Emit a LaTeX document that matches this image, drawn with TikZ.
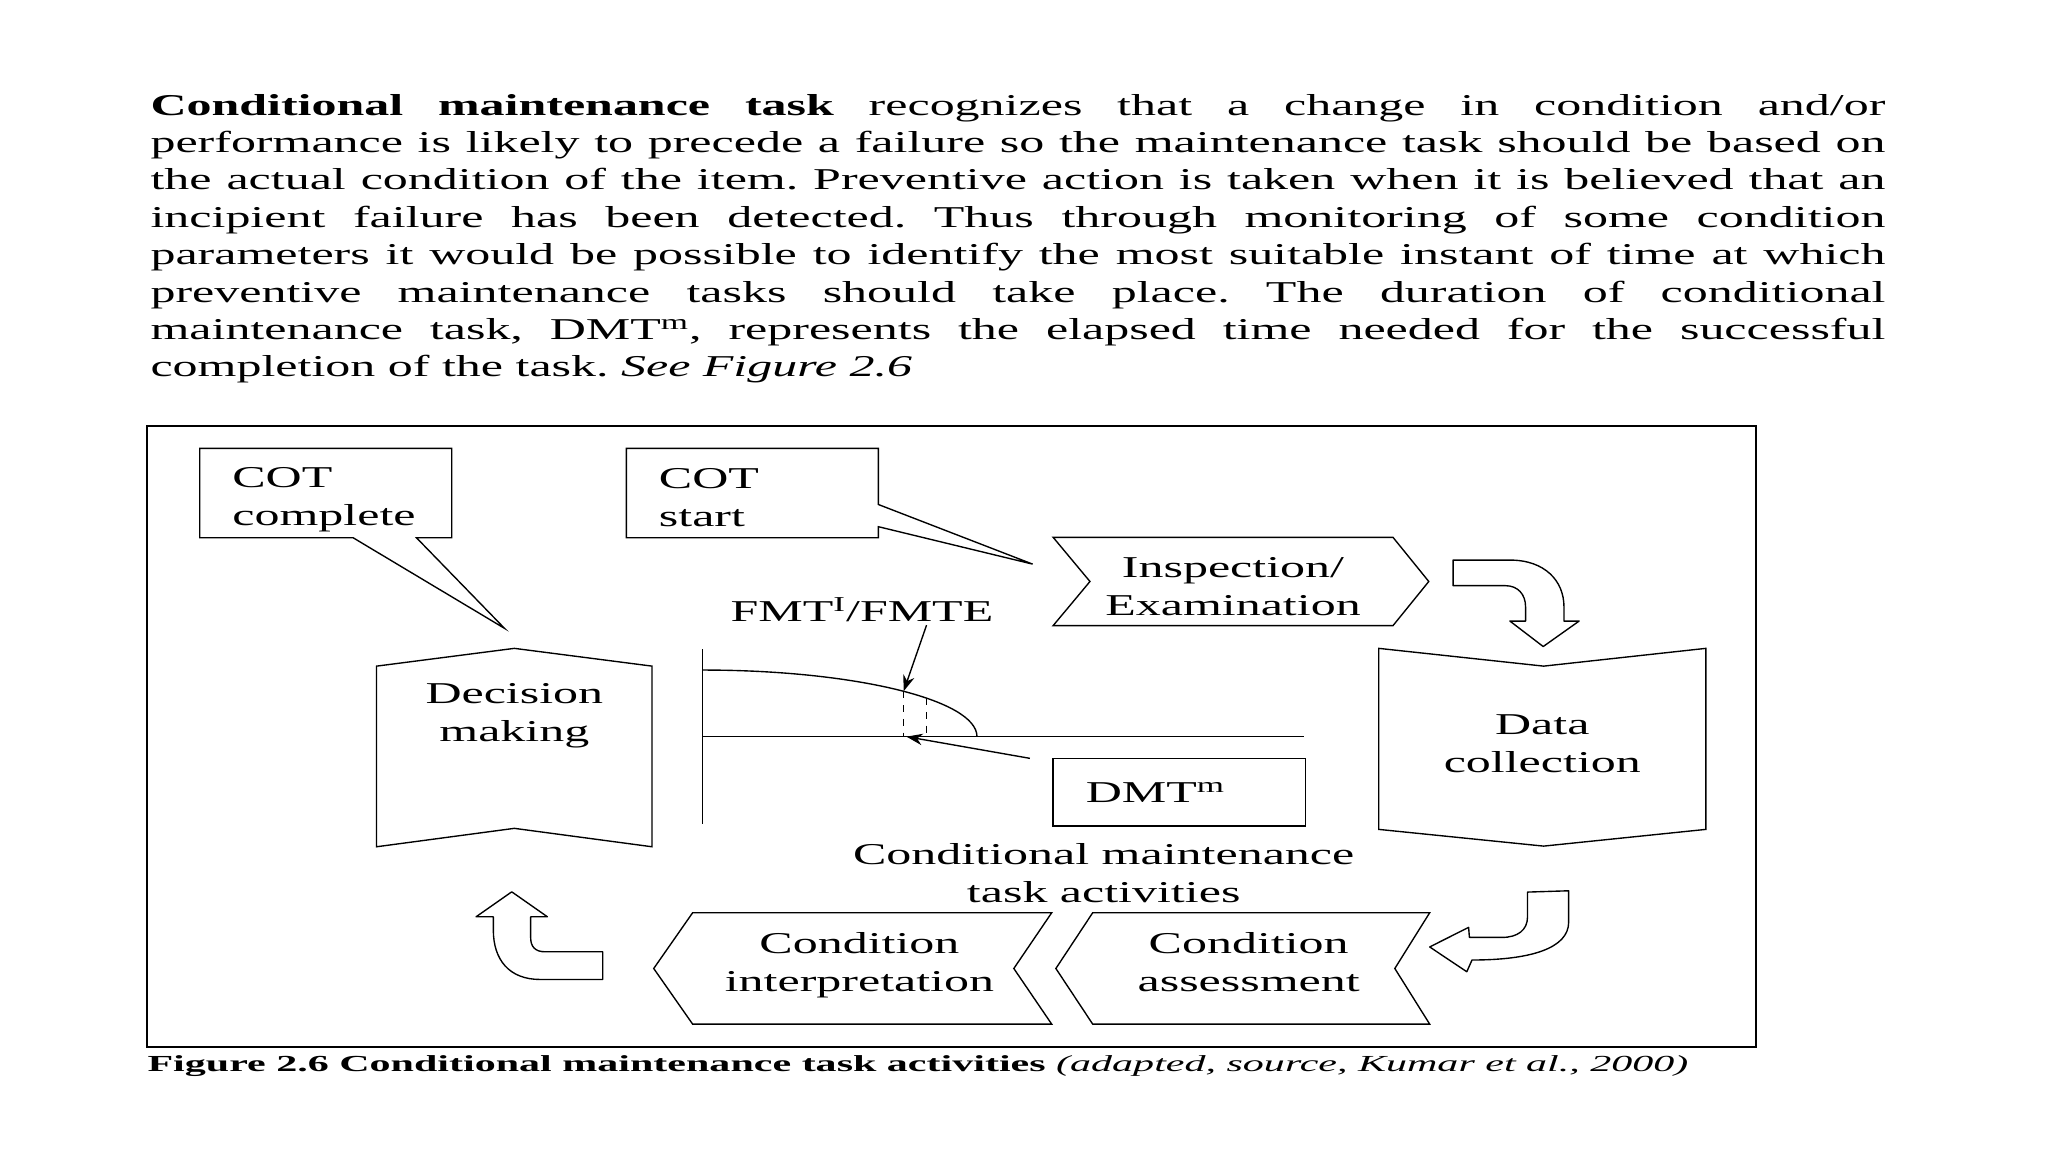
\documentclass[tikz,border=0pt]{standalone}
\usepackage{fontspec}
\setmainfont{Liberation Serif}[FakeStretch=1.65]
\usetikzlibrary{arrows.meta, shapes.callouts, positioning, calc}

\newcommand{\diagfont}{\fontsize{13.2}{16.3}\selectfont}
\newcommand{\capfont}{\fontsize{10}{12}\selectfont}
\newcommand{\lowered}[2]{\raisebox{-#1}[\height][\depth]{#2}}
\frenchspacing

\begin{document}
\begin{tikzpicture}[x=0.02cm, y=-0.02cm, >={Stealth[length=7pt,width=5pt]},
  every node/.style={font=\diagfont},
  stage/.style={draw, semithick},
  stage text/.style={align=center, inner sep=0pt},
  cot node/.style={rectangle callout, draw, semithick, align=left, text width=2.86cm,
    minimum width=3.86cm, minimum height=1.37cm, inner xsep=0.5cm, inner ysep=0pt},
  block arrow/.style={draw, semithick, fill=white, line join=round}]
  \useasboundingbox (0,0) rectangle (1568,882);

  % text above the figure
  \node[anchor=base west, inner sep=0pt, text width=26.57cm, align=justify] (para) at (114.9,88.1)
    {\tolerance=9999
     \textbf{Conditional maintenance task} recognizes that a change in condition and/or\linebreak
     performance is likely to precede a failure so the maintenance task should be based on\linebreak
     the actual condition of the item. Preventive action is taken when it is believed that an\linebreak
     incipient failure has been detected. Thus through monitoring of some condition\linebreak
     parameters it would be possible to identify the most suitable instant of time at which\linebreak
     preventive maintenance tasks should take place. The duration of conditional\linebreak
     maintenance task, DMT\textsuperscript{m}, represents the elapsed time needed for the successful\linebreak
     completion of the task. \textit{See Figure 2.6}};

  \draw[thick] (112.6,326) rectangle (1344.3,801.7);

  % callouts
  \node[cot node, callout absolute pointer={(386.3,481.1)}, callout pointer width=0.97cm]
    (cot complete) at (249.4,377.5) {\lowered{0.1cm}{COT}\\\lowered{0.1cm}{complete}};
  \node[cot node, callout absolute pointer={(790.6,431.9)}, callout pointer width=0.34cm]
    (cot start) at (576,377.5) {\lowered{0.07cm}{COT}\\\lowered{0.07cm}{start}};

  % the cycle
  \draw[stage] (806.3,411.4) -- (1066.5,411.4) -- (1093.9,445.2) -- (1066.5,479)
    -- (806.3,479) -- (834.5,445.2) -- cycle;
  \node[stage text] (inspection) at (944,449) {Inspection/\\Examination};

  \draw[stage] (1055.6,496.4) -- (1181.8,510) -- (1306,496.4) -- (1306,635)
    -- (1181.8,647.8) -- (1055.6,635) -- cycle;
  \node[stage text] (data) at (1180.8,569.5) {Data\\collection};

  \draw[stage] (836.6,698.8) -- (1094.6,698.8) -- (1067.9,741.5) -- (1094.6,784.1)
    -- (836.6,784.1) -- (808.4,741.5) -- cycle;
  \node[stage text] (assessment) at (956,736.5) {Condition\\assessment};

  \draw[stage] (530.3,698.8) -- (805.2,698.8) -- (776.2,741.5) -- (805.2,784.1)
    -- (530.3,784.1) -- (500.5,741.5) -- cycle;
  \node[stage text] (interpretation) at (658,739) {Condition\\interpretation};

  \draw[stage] (288.3,510) -- (393.8,496.4) -- (499.2,510) -- (499.2,648.3)
    -- (393.8,634.2) -- (288.3,648.3) -- cycle;
  \node[stage text] (decision) at (393.8,548) {Decision\\making};

  \draw[block arrow] (1112.5,428.8) -- (1156,428.8) .. controls (1183,428.8) and (1197.4,445) .. (1197.4,464.5)
    -- (1197.4,475.5) -- (1209,475.5) -- (1181.5,495) -- (1156,475.5) -- (1168,475.5) -- (1168,464.5)
    .. controls (1168,455) and (1162,448.4) .. (1152.6,448.4) -- (1112.5,448.4) -- cycle;
  \draw[block arrow] (1169.5,683) -- (1201,682) -- (1201,706) .. controls (1201,726) and (1172,735) .. (1127,735)
    -- (1123,744) -- (1094.6,725) -- (1124.4,710) -- (1125,717.7) -- (1150,717.7)
    .. controls (1162,717.7) and (1169.5,712) .. (1169.5,702) -- cycle;
  \draw[block arrow] (461.5,728.7) -- (461.5,749.9) -- (413.5,749.9) .. controls (390,749.9) and (377.7,735) .. (377.7,712)
    -- (377.7,701.9) -- (364.5,701.9) -- (391.8,682.8) -- (419.1,701.9) -- (406.3,701.9) -- (406.3,718)
    .. controls (406.3,725) and (410,728.7) .. (417.3,728.7) -- cycle;

  % condition curve
  \coordinate (y top) at (538,497);
  \coordinate (y bottom) at (538,631);
  \coordinate (origin) at (538,564);
  \coordinate (x end) at (998,564);
  \coordinate (fail start) at (691.8,529.3);
  \coordinate (fail end) at (709.4,534.5);
  \draw[semithick] (y top) -- (y bottom);
  \draw[semithick] (origin) -- (x end);
  \draw[semithick] (538,513) .. controls (654,513) and (748,535.8) .. (748,564);
  \draw[semithick, dashed] (fail start) -- (fail start |- origin);
  \draw[semithick, dashed] (fail end) -- (fail end |- origin);

  \node[anchor=base, inner sep=0pt] (fmt) at (659.9,476) {FMT\textsuperscript{I}/FMTE};
  \coordinate (fmt tail) at (709.4,478.6);
  \draw[semithick, ->] (fmt tail) -- (fail start);

  \node[draw, semithick, align=left, text width=2.86cm, minimum width=3.86cm, minimum height=1.04cm,
    inner xsep=0.5cm, inner ysep=0pt] (dmt) at (902.8,606.5) {DMT\textsuperscript{m}};
  \coordinate (dmt tail) at (788.5,580.6);
  \draw[semithick, ->] (dmt tail) -- (694,564);

  \node[align=center, inner sep=0pt] (activities) at (845,668.5) {Conditional maintenance\\task activities};

  % caption
  \node[anchor=base west, inner sep=0pt, font=\capfont] (caption) at (112.6,820.6)
    {\scalebox{1.11}[1]{\textbf{Figure 2.6 Conditional maintenance task activities} \textit{(adapted, source, Kumar et al., 2000)}}};
\end{tikzpicture}
\end{document}
